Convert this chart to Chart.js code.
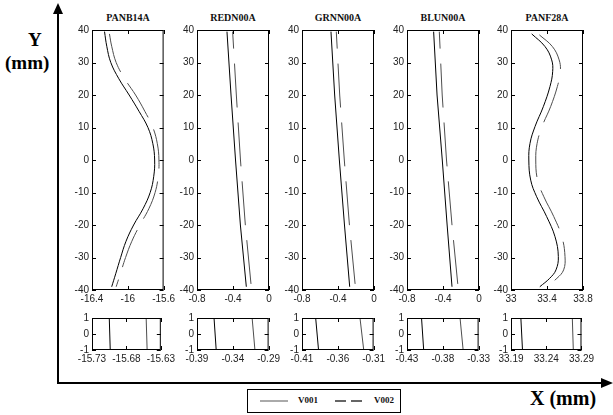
<!DOCTYPE html>
<html><head><meta charset="utf-8">
<script src="https://cdn.jsdelivr.net/npm/chart.js@4.4.1/dist/chart.umd.min.js"></script>
<style>
html,body{margin:0;padding:0;background:#fff;}
#wrap{position:relative;width:613px;height:415px;overflow:hidden;background:#fff;}
canvas{position:absolute;}
.ttl{position:absolute;width:72px;text-align:center;font:bold 10px "Liberation Serif","Times New Roman",serif;line-height:1;color:#111;white-space:nowrap;}
.big{position:absolute;font:bold 19px "Liberation Serif","Times New Roman",serif;line-height:1;color:#000;white-space:nowrap;}
#legend{position:absolute;left:247px;top:389px;width:154px;height:24px;border:1px solid #000;box-sizing:border-box;background:#fff;}
.lt{position:absolute;top:6px;font:bold 9px "Liberation Serif","Times New Roman",serif;line-height:1;color:#111;}
</style></head>
<body><div id="wrap">
<svg width="613" height="415" style="position:absolute;left:0;top:0">
 <line x1="58" y1="384" x2="58" y2="12" stroke="#000" stroke-width="2"/>
 <polygon points="58,3 53,14 63,14" fill="#000"/>
 <line x1="57" y1="383" x2="603" y2="383" stroke="#000" stroke-width="2"/>
 <polygon points="613,383 601,378 601,388" fill="#000"/>
</svg>
<div class="big" style="left:28px;top:30px">Y</div>
<div class="big" style="left:5px;top:53px">(mm)</div>
<div class="big" style="left:530px;top:388px;font-size:20px">X (mm)</div>
<div id="legend">
  <svg width="152" height="22" style="position:absolute;left:0;top:0">
   <line x1="12" y1="11" x2="40" y2="11" stroke="#aaa" stroke-width="2"/>
   <line x1="87" y1="11" x2="114" y2="11" stroke="#333" stroke-width="1.5" stroke-dasharray="11,5"/>
  </svg>
  <span class="lt" style="left:50px">V001</span>
  <span class="lt" style="left:126px">V002</span>
</div>
</div>
<script>
// ---------- data ----------
const panelNames = ['PANB14A','REDN00A','GRNN00A','BLUN00A','PANF28A'];
const mainXTicks = [['-16.4','-16','-15.6'],['-0.8','-0.4','0'],['-0.8','-0.4','0'],['-0.8','-0.4','0'],['33','33.4','33.8']];
const mainYTicks = ['-40','-30','-20','-10','0','10','20','30','40'];
const insetXTicks = [['-15.73','-15.68','-15.63'],['-0.39','-0.34','-0.29'],['-0.41','-0.36','-0.31'],['-0.43','-0.38','-0.33'],['33.19','33.24','33.29']];
const insetYTicks = ['-1','0','1'];

// PANB14A
const panb14aY001 = [39.5, 35, 30, 25, 20, 15, 10, 5, 0, -5, -10, -15, -20, -25, -30, -35, -39];
const panb14aX001 = [-16.26, -16.235, -16.19, -16.10, -15.985, -15.875, -15.775, -15.72, -15.70, -15.71, -15.75, -15.83, -15.935, -16.02, -16.08, -16.135, -16.18];
const panb14aY002 = [38.8, 35, 30, 25, 20, 15, 10, 5, 0, -5, -10, -15, -20, -25, -30, -35, -39];
const panb14aX002 = [-16.205, -16.18, -16.13, -16.035, -15.913, -15.81, -15.72, -15.67, -15.652, -15.66, -15.695, -15.765, -15.865, -15.955, -16.025, -16.083, -16.13];
// REDN00A / GRNN00A / BLUN00A
const straightY = [39.5, 20, 0, -20, -39];
const rednX001 = [-0.467, -0.422, -0.372, -0.318, -0.252];
const rednX002 = [-0.404, -0.363, -0.317, -0.263, -0.197];
const grnnX001 = [-0.478, -0.437, -0.385, -0.328, -0.270];
const grnnX002 = [-0.419, -0.381, -0.330, -0.273, -0.207];
const blunX001 = [-0.504, -0.466, -0.408, -0.354, -0.300];
const blunX002 = [-0.441, -0.409, -0.361, -0.300, -0.233];
// PANF28A
const panf28aY001 = [38.8, 34.9, 30.8, 27.2, 22.6, 16.4, 10.3, 5.1, 0, -6.2, -11.3, -17.4, -23.6, -29.7, -33.8, -36.4, -39];
const panf28aX001 = [33.23, 33.378, 33.452, 33.463, 33.433, 33.359, 33.267, 33.211, 33.198, 33.219, 33.285, 33.396, 33.489, 33.526, 33.50, 33.43, 33.32];
const panf28aY002 = [38.5, 34.9, 30.8, 27.2, 22.6, 16.4, 10.3, 5.1, 0, -6.2, -11.3, -17.4, -23.6, -29.7, -33.8, -36.4, -39];
const panf28aX002 = [33.315, 33.46, 33.535, 33.548, 33.515, 33.44, 33.345, 33.29, 33.275, 33.295, 33.365, 33.475, 33.565, 33.60, 33.585, 33.51, 33.39];
// insets (zoom around y = 0)
const insetY = [1, -1];
const insetX001 = [[-15.7049, -15.7035], [-0.3662, -0.3632], [-0.3909, -0.3869], [-0.4097, -0.4067], [33.2040, 33.2063]];
const insetX002 = [[-15.6513, -15.6499], [-0.3130, -0.3091], [-0.3290, -0.3238], [-0.3559, -0.3516], [33.2770, 33.2784]];

// ---------- layout & style ----------
const FONT = '"Liberation Sans", Arial, Helvetica, sans-serif';
const C001 = '#000000', C002 = '#4d4d4d';
const plotLefts = [92, 197, 302, 407, 511];
const plotW = 72;
const wrap = document.getElementById('wrap');

const mainSeries = [
  [{x:panb14aX001,y:panb14aY001,color:C001,tension:0.4},{x:panb14aX002,y:panb14aY002,color:C002,dash:[40,13],dashOffset:0,tension:0.4}],
  [{x:rednX001,y:straightY,color:C001},{x:rednX002,y:straightY,color:C002,dash:[44,15],dashOffset:27}],
  [{x:grnnX001,y:straightY,color:C001},{x:grnnX002,y:straightY,color:C002,dash:[44,15],dashOffset:27}],
  [{x:blunX001,y:straightY,color:C001},{x:blunX002,y:straightY,color:C002,dash:[44,15],dashOffset:27}],
  [{x:panf28aX001,y:panf28aY001,color:C001,tension:0.4},{x:panf28aX002,y:panf28aY002,color:C002,dash:[42,14],dashOffset:0,tension:0.4}]
];

const framePlugin = {
  id:'frame',
  afterDatasetsDraw(chart){
    const {ctx, chartArea:a, scales:{x, y}} = chart;
    ctx.save();
    ctx.strokeStyle = '#000'; ctx.lineWidth = 1;
    ctx.strokeRect(a.left + 0.5, a.top + 0.5, a.right - a.left - 1, a.bottom - a.top - 1);
    const L = 4;
    ctx.beginPath();
    x.ticks.forEach(t => {
      const p = Math.round(x.getPixelForValue(t.value)) + 0.5;
      ctx.moveTo(p, a.bottom); ctx.lineTo(p, a.bottom - L);
      ctx.moveTo(p, a.top); ctx.lineTo(p, a.top + L);
    });
    y.ticks.forEach(t => {
      const p = Math.round(y.getPixelForValue(t.value)) + 0.5;
      ctx.moveTo(a.left, p); ctx.lineTo(a.left + L, p);
      ctx.moveTo(a.right, p); ctx.lineTo(a.right - L, p);
    });
    ctx.stroke();
    ctx.restore();
  }
};

function addCanvas(left, top, w, h){
  const c = document.createElement('canvas');
  c.width = w; c.height = h;
  c.style.left = left + 'px'; c.style.top = top + 'px';
  c.style.width = w + 'px'; c.style.height = h + 'px';
  wrap.appendChild(c);
  return c;
}

function axisOpts(labels, isX){
  const vals = labels.map(Number);
  return {
    type:'linear', min: vals[0], max: vals[vals.length - 1],
    grid:{display:false, drawTicks:false, tickLength:0}, border:{display:false},
    afterBuildTicks: s => { s.ticks = vals.map(v => ({value:v})); },
    afterFit: s => { if (isX) s.height = 20; else s.width = 30; },
    ticks:{autoSkip:false, maxRotation:0, padding:3, color:'#222', font:{family:FONT, size:10},
      callback:(v, i) => labels[i]}
  };
}

function build(canvas, xLabels, yLabels, series){
  return new Chart(canvas, {
    type:'scatter',
    data:{datasets: series.map(s => ({
      data: s.x.map((v, i) => ({x:v, y:s.y[i]})),
      showLine:true, borderColor:s.color, borderWidth:1,
      borderDash:s.dash || [], borderDashOffset:s.dashOffset || 0,
      pointRadius:0, tension:s.tension || 0, fill:false
    }))},
    options:{
      responsive:false, animation:false, devicePixelRatio:1, events:[],
      layout:{padding:{top:10, right:14, left:0, bottom:0}},
      plugins:{legend:{display:false}, tooltip:{enabled:false}, title:{display:false}},
      scales:{x:axisOpts(xLabels, true), y:axisOpts(yLabels, false)}
    },
    plugins:[framePlugin]
  });
}

const MAIN_TOP = 20, MAIN_H = 290;   // chart area 30..290
const INS_TOP = 308, INS_H = 62;     // chart area 318..350
for (let i = 0; i < 5; i++){
  const L = plotLefts[i];
  const t = document.createElement('div');
  t.className = 'ttl'; t.textContent = panelNames[i];
  t.style.left = L + 'px'; t.style.top = '13px';
  wrap.appendChild(t);
  build(addCanvas(L - 30, MAIN_TOP, 30 + plotW + 14, MAIN_H), mainXTicks[i], mainYTicks, mainSeries[i]);
  build(addCanvas(L - 30, INS_TOP, 30 + plotW + 14, INS_H), insetXTicks[i], insetYTicks,
    [{x:insetX001[i], y:insetY, color:C001}, {x:insetX002[i], y:insetY, color:C002}]);
}
</script>
</body></html>
